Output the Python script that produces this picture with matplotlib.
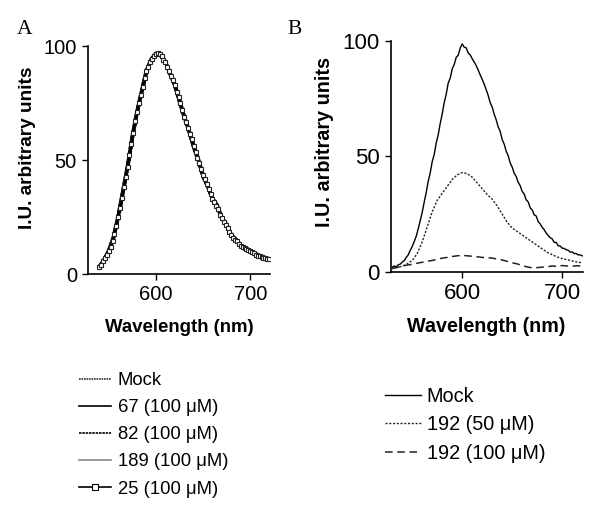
import numpy as np
import matplotlib
matplotlib.use("Agg")
import matplotlib.pyplot as plt
from matplotlib.lines import Line2D

plt.rcParams['font.family'] = ['Liberation Sans', 'DejaVu Sans']

# ---------------- Panel A data (5 nm grid, 540-720 nm) ----------------
wl_a = np.arange(540, 721, 5)
a_mock = [3.2, 6.0, 10.0, 16.0, 25.0, 36.0, 47.0, 60.0, 71.0, 80.0, 89.0, 94.0, 96.5,
          96.0, 93.0, 88.0, 83.0, 76.0, 69.0, 63.0, 56.0, 50.0, 43.0, 38.5, 33.0, 30.0,
          24.5, 21.5, 17.0, 15.0, 12.5, 11.0, 10.0, 9.0, 8.0, 7.2, 6.6]
a_67 = [3.0, 6.2, 10.3, 16.2, 25.3, 36.2, 47.5, 60.3, 71.2, 80.5, 89.2, 94.2, 96.8,
        96.1, 93.2, 88.2, 83.1, 76.2, 69.3, 63.0, 56.2, 50.2, 43.3, 38.6, 33.2, 30.1,
        24.6, 21.6, 17.2, 15.1, 12.6, 11.1, 10.1, 9.1, 8.1, 7.3, 6.7]
a_82 = [3.3, 5.9, 9.8, 15.8, 24.8, 35.8, 46.8, 59.8, 70.8, 79.8, 88.8, 93.8, 96.3,
        95.8, 92.8, 87.8, 82.8, 75.8, 68.8, 62.8, 55.8, 49.8, 42.8, 38.3, 32.8, 29.8,
        24.3, 21.3, 16.8, 14.8, 12.3, 10.8, 9.8, 8.8, 7.8, 7.0, 6.4]
a_189 = [3.1, 6.1, 10.1, 16.1, 25.1, 36.1, 47.2, 60.1, 71.1, 80.2, 89.1, 94.1, 96.6,
         96.0, 93.1, 88.1, 83.0, 76.1, 69.1, 63.1, 56.1, 50.1, 43.1, 38.5, 33.1, 30.0,
         24.5, 21.5, 17.1, 15.0, 12.5, 11.0, 10.0, 9.0, 8.0, 7.2, 6.6]

# compound 25 (2 nm grid, 540-720 nm), plotted with square markers
wl_a25 = np.arange(540, 721, 2)
a_25 = [3.0, 4.0, 5.5, 7.0, 8.5, 10.0, 12.0, 14.5, 17.5, 21.0,
        25.0, 29.0, 33.5, 38.0, 42.5, 47.0, 52.0, 57.0, 62.0, 67.0,
        71.0, 75.0, 78.5, 82.0, 86.0, 89.0, 91.0, 93.0, 94.5, 95.5,
        96.5, 97.0, 96.5, 95.5, 94.0, 93.0, 91.0, 89.0, 87.0, 85.0,
        83.0, 80.0, 77.5, 75.0, 72.0, 69.0, 66.5, 64.0, 61.5, 59.0,
        56.0, 53.5, 51.0, 48.5, 46.0, 43.5, 41.5, 39.5, 37.5, 35.0,
        33.0, 31.5, 30.0, 28.5, 26.0, 24.5, 23.0, 21.5, 20.0, 18.5,
        17.0, 16.0, 15.0, 14.5, 13.0, 12.5, 12.0, 11.5, 11.0, 10.5,
        10.0, 9.5, 9.0, 8.5, 8.0, 8.0, 7.5, 7.0, 7.0, 6.5, 6.5]

# ---------------- Panel B data ----------------
wl_b = np.arange(530, 721, 2)
b_mock = [2.0, 2.6, 2.2, 3.1, 3.4, 4.3, 4.9, 6.3, 7.4, 9.3,
          11.0, 13.2, 15.4, 18.7, 22.1, 25.8, 30.2, 34.3, 39.2, 42.8,
          47.7, 50.8, 55.7, 59.3, 64.2, 68.3, 73.2, 76.8, 81.7, 83.8,
          87.8, 89.7, 92.8, 93.7, 96.8, 98.6, 97.2, 96.9, 94.7, 93.9,
          92.2, 90.8, 89.2, 87.3, 85.2, 83.3, 81.2, 78.8, 76.3, 73.2,
          71.3, 68.2, 65.8, 62.7, 60.8, 57.2, 55.3, 52.2, 50.3, 47.2,
          45.3, 42.7, 41.3, 38.8, 37.3, 34.8, 33.7, 31.2, 30.3, 27.7,
          26.8, 24.7, 24.2, 21.8, 20.8, 19.3, 18.3, 16.8, 15.8, 14.8,
          14.3, 12.8, 12.8, 11.3, 11.2, 10.3, 10.2, 9.6, 9.4, 8.6,
          8.7, 8.0, 8.0, 7.4, 7.4, 7.0]

wl_b5 = np.arange(530, 721, 5)
b_192_50 = [1.5, 2.0, 2.5, 3.5, 5.0, 8.0, 13.0, 19.5, 26.0, 31.0, 34.0, 37.0, 40.0,
            42.0, 43.0, 42.5, 41.0, 38.5, 36.0, 33.5, 31.5, 28.5, 25.0, 21.5, 19.0,
            17.5, 16.0, 14.5, 13.0, 11.5, 10.0, 8.5, 7.5, 6.5, 5.8, 5.3, 4.8, 4.3, 4.0]
b_192_100 = [1.5, 2.0, 2.5, 3.0, 3.3, 3.8, 4.2, 4.6, 5.0, 5.5, 6.0, 6.3, 6.7,
             7.0, 7.2, 7.0, 6.8, 6.6, 6.3, 6.2, 6.0, 5.6, 5.2, 4.6, 4.0, 3.5,
             2.8, 2.2, 1.8, 1.9, 2.1, 2.3, 2.6, 2.4, 2.8, 2.6, 2.5, 2.7, 2.5]

yticks = [0, 50, 100]
xticks = [600, 700]
ylabel = "I.U. arbitrary units"
xlabel = "Wavelength (nm)"
labels_a = ["Mock", "67 (100 \u03bcM)", "82 (100 \u03bcM)", "189 (100 \u03bcM)", "25 (100 \u03bcM)"]
labels_b = ["Mock", "192 (50 \u03bcM)", "192 (100 \u03bcM)"]

fig = plt.figure(figsize=(6.01, 5.14), dpi=100)

def style_axes(ax, fs):
    for s in ['top', 'right']:
        ax.spines[s].set_visible(False)
    for s in ['left', 'bottom']:
        ax.spines[s].set_linewidth(1.2)
    ax.set_yticks(yticks)
    ax.set_xticks(xticks)
    ax.set_ylim(0, 100)
    ax.tick_params(axis='both', length=4, width=1, labelsize=fs, direction='out')
    ax.tick_params(axis='y', pad=4)
    ax.tick_params(axis='x', pad=4)

# ---------------- Panel A ----------------
axA = fig.add_axes([88/601, 1-274/514, 182/601, 228/514])
lA1, = axA.plot(wl_a, a_mock, color='#333333', lw=2.8, ls=(0, (1, 0.5)))
lA2, = axA.plot(wl_a, a_67, color='black', lw=2.6)
lA3, = axA.plot(wl_a, a_82, color='black', lw=2.6, ls=(0, (1.5, 0.5)))
lA4, = axA.plot(wl_a, a_189, color='#888888', lw=1.5)
lA5, = axA.plot(wl_a25, a_25, color='black', lw=2.0, marker='s', ms=3.2,
                mfc='white', mec='#222222', mew=0.8)
axA.set_xlim(528, 721)
style_axes(axA, 14.5)

# ---------------- Panel B ----------------
axB = fig.add_axes([390.7/601, 1-272/514, 192/601, 231.3/514])
lB1, = axB.plot(wl_b, b_mock, color='black', lw=1.0)
lB2, = axB.plot(wl_b5, b_192_50, color='#222222', lw=1.0, ls=(0, (1.5, 1.2)))
lB3, = axB.plot(wl_b5, b_192_100, color='#222222', lw=1.1, ls=(0, (5, 3)))
axB.set_xlim(528.5, 720.5)
style_axes(axB, 16)

# labels
fig.text(28/601, 1-148/514, ylabel, rotation=90, ha='center', va='center',
         fontsize=13.7, fontweight='bold')
fig.text(325/601, 1-142/514, ylabel, rotation=90, ha='center', va='center',
         fontsize=14.2, fontweight='bold')
fig.text(179/601, 1-327/514, xlabel, ha='center', va='center',
         fontsize=13.4, fontweight='bold')
fig.text(486/601, 1-327/514, xlabel, ha='center', va='center',
         fontsize=14.2, fontweight='bold')

fig.text(17/601, 1-34/514, "A", fontsize=15.5, family='Liberation Serif',
         ha='left', va='baseline')
fig.text(287/601, 1-34/514, "B", fontsize=15.5, family='Liberation Serif',
         ha='left', va='baseline')

# legends
legA = fig.legend([lA1, lA2, lA3, lA4,
                   Line2D([], [], color='black', lw=1.2, marker='s', ms=4,
                          mfc='white', mec='black', mew=0.8)],
                  labels_a, loc='upper left', bbox_to_anchor=(79/601, 1-372/514),
                  frameon=False, fontsize=13.3, handlelength=1.75, handletextpad=0.35,
                  labelspacing=0.55, borderpad=0, borderaxespad=0)
for h in legA.legend_handles[:4]:
    h.set_linewidth(1.2)

legB = fig.legend([lB1, lB2, lB3], labels_b, loc='upper left',
                  bbox_to_anchor=(385/601, 1-387/514),
                  frameon=False, fontsize=14.3, handlelength=1.8, handletextpad=0.3,
                  labelspacing=0.47, borderpad=0, borderaxespad=0)

fig.savefig("out.png", dpi=100)
